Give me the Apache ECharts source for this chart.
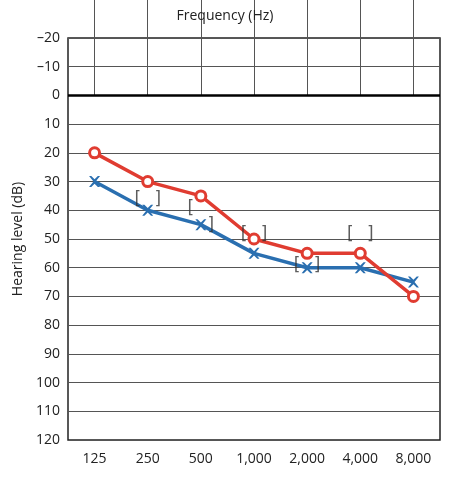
<!DOCTYPE html><html><head><meta charset="utf-8"><script src="https://cdn.jsdelivr.net/npm/echarts@6/dist/echarts.min.js"></script></head><body style="margin:0"><div id="c" style="width:450px;height:477px"></div><script>
const freqs=['125','250','500','1,000','2,000','4,000','8,000'];
const rightEar=[20,30,35,50,55,55,70];
const leftEar=[30,40,45,55,60,60,65];
const boneLeftBracket=[null,37,40,49,60,49,null];
const boneRightBracket=[null,37,46,49,60,49,null];
const xPath='path://M0,0L2,0L5,3L8,0L10,0L6,5L10,10L8,10L5,7L2,10L0,10L4,5Z';
const ch=echarts.init(document.getElementById('c'));
function br(vals,ch0,off){return{type:'scatter',data:vals,symbolSize:2,itemStyle:{color:'rgba(0,0,0,0)'},silent:true,z:5,
 label:{show:true,formatter:ch0,position:'inside',offset:[off,-2],fontSize:17,color:'#333',fontFamily:'DejaVu Sans'}};}
ch.setOption({animation:false,
 title:{text:'Frequency (Hz)',left:'center',top:4,textStyle:{fontSize:14,fontWeight:'normal',color:'#222',fontFamily:'Open Sans'}},
 grid:{left:68,right:10,top:38,bottom:37,show:true,borderColor:'#222',borderWidth:1.5},
 xAxis:{type:'category',data:freqs,boundaryGap:true,axisLine:{show:false},
  axisTick:{show:true,alignWithLabel:true,length:-402,lineStyle:{color:'#555',width:1}},
  axisLabel:{interval:0,fontSize:14,color:'#222',margin:12,fontFamily:'Open Sans'},
  splitLine:{show:false}},
 yAxis:{type:'value',inverse:true,min:-20,max:120,interval:10,name:'Hearing level (dB)',nameLocation:'middle',nameGap:42,
  nameTextStyle:{fontSize:14,color:'#222',fontFamily:'Open Sans'},axisLine:{show:false},axisTick:{show:false},
  axisLabel:{fontSize:14,color:'#222',fontFamily:'Open Sans',formatter:v=>String(v).replace('-','\u2013')},splitLine:{lineStyle:{color:'#555',width:1}}},
 series:[
  {type:'line',data:leftEar,lineStyle:{width:3.5,color:'#2a6fb0'},symbol:xPath,symbolSize:11,itemStyle:{color:'#2a6fb0'},z:3},
  {type:'line',data:rightEar,lineStyle:{width:3.5,color:'#e03c31'},symbol:'circle',symbolSize:10,itemStyle:{color:'#fff',borderColor:'#e03c31',borderWidth:3},z:4,
   markLine:{silent:true,symbol:'none',label:{show:false},lineStyle:{color:'#000',width:2.5,type:'solid'},data:[{yAxis:0}]}},
  br(boneLeftBracket,'[',-10),br(boneRightBracket,']',10)
 ]});
</script></body></html>
